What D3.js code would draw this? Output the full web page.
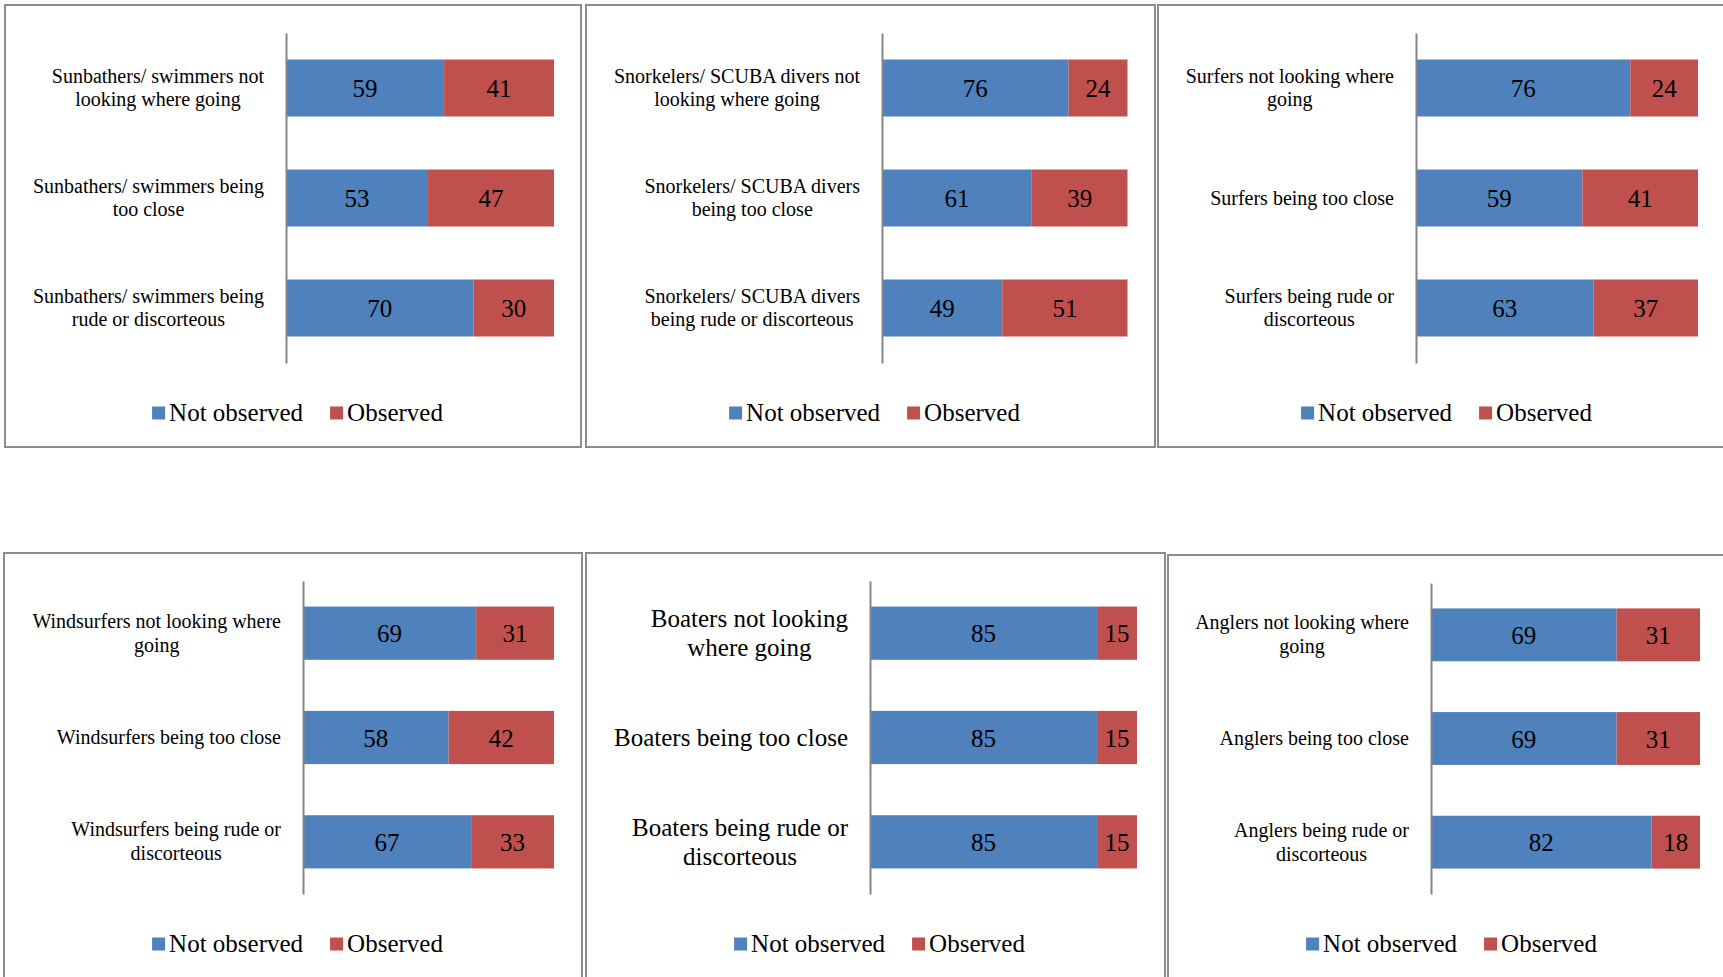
<!DOCTYPE html>
<html>
<head>
<meta charset="utf-8">
<script src="https://cdn.jsdelivr.net/npm/d3@7"></script>
<style>
  html, body { margin: 0; padding: 0; background: #fff; overflow: hidden; }
  svg { display: block; font-family: "Liberation Serif", "Times New Roman", serif; }
</style>
</head>
<body>
<svg id="chart" width="1723" height="977"></svg>
<script>
// ---------------- DATA ----------------
const seriesNames = ["Not observed", "Observed"];
const seriesColors = ["#4F81BD", "#C0504D"];

const sunbatherCategories = ["Sunbathers/ swimmers not\nlooking where going", "Sunbathers/ swimmers being\ntoo close", "Sunbathers/ swimmers being\nrude or discorteous"];
const sunbatherNotObserved = [59, 53, 70];
const sunbatherObserved = [41, 47, 30];

const snorkelerCategories = ["Snorkelers/ SCUBA divers not\nlooking where going", "Snorkelers/ SCUBA divers\nbeing too close", "Snorkelers/ SCUBA divers\nbeing rude or discorteous"];
const snorkelerNotObserved = [76, 61, 49];
const snorkelerObserved = [24, 39, 51];

const surferCategories = ["Surfers not looking where\ngoing", "Surfers being too close", "Surfers being rude or\ndiscorteous"];
const surferNotObserved = [76, 59, 63];
const surferObserved = [24, 41, 37];

const windsurferCategories = ["Windsurfers not looking where\ngoing", "Windsurfers being too close", "Windsurfers being rude or\ndiscorteous"];
const windsurferNotObserved = [69, 58, 67];
const windsurferObserved = [31, 42, 33];

const boaterCategories = ["Boaters not looking\nwhere going", "Boaters being too close", "Boaters being rude or\ndiscorteous"];
const boaterNotObserved = [85, 85, 85];
const boaterObserved = [15, 15, 15];

const anglerCategories = ["Anglers not looking where\ngoing", "Anglers being too close", "Anglers being rude or\ndiscorteous"];
const anglerNotObserved = [69, 69, 82];
const anglerObserved = [31, 31, 18];

// ---------------- LAYOUT (positions only) ----------------
const panels = [
  { cats: sunbatherCategories, a: sunbatherNotObserved, b: sunbatherObserved,
    box: [5, 5, 576, 442], axisX: 286, barRight: 554, yTop: 33, yBottom: 363, pad: 0.482,
    labelFont: 20, lh: 23, legendY: 413, legendCx: 297.5 },
  { cats: snorkelerCategories, a: snorkelerNotObserved, b: snorkelerObserved,
    box: [586, 5, 569, 442], axisX: 882, barRight: 1127.5, yTop: 33, yBottom: 363, pad: 0.482,
    labelFont: 20, lh: 23, legendY: 413, legendCx: 874.5 },
  { cats: surferCategories, a: surferNotObserved, b: surferObserved,
    box: [1158, 5, 580, 442], axisX: 1416, barRight: 1698, yTop: 33, yBottom: 363, pad: 0.482,
    labelFont: 20, lh: 23, legendY: 413, legendCx: 1446.5 },
  { cats: windsurferCategories, a: windsurferNotObserved, b: windsurferObserved,
    box: [4, 553, 578, 440], axisX: 303, barRight: 554, yTop: 581, yBottom: 894, pad: 0.49,
    labelFont: 20, lh: 24, legendY: 944, legendCx: 297.5 },
  { cats: boaterCategories, a: boaterNotObserved, b: boaterObserved,
    box: [586, 553, 579, 440], axisX: 870, barRight: 1137, yTop: 581, yBottom: 894, pad: 0.49,
    labelFont: 25, lh: 29, legendY: 944, legendCx: 879.5 },
  { cats: anglerCategories, a: anglerNotObserved, b: anglerObserved,
    box: [1168, 555, 580, 440], axisX: 1431, barRight: 1700, yTop: 583, yBottom: 894, pad: 0.49,
    labelFont: 20, lh: 24, legendY: 944, legendCx: 1451.5 }
];

const svg = d3.select("#chart");

panels.forEach(p => {
  const g = svg.append("g");
  // panel border
  g.append("rect")
    .attr("x", p.box[0]).attr("y", p.box[1])
    .attr("width", p.box[2]).attr("height", p.box[3])
    .attr("fill", "#fff").attr("stroke", "#8c8c8c").attr("stroke-width", 2);

  const x = d3.scaleLinear().domain([0, 100]).range([p.axisX, p.barRight]);
  const y = d3.scaleBand().domain(p.cats).range([p.yTop, p.yBottom])
    .paddingInner(p.pad).paddingOuter(p.pad / 2);

  const rows = p.cats.map((c, i) => ({ cat: c, vals: [p.a[i], p.b[i]] }));
  const stack = d3.stack().keys([0, 1]).value((d, k) => d.vals[k])(rows);

  stack.forEach((layer, k) => {
    g.append("g").selectAll("rect").data(layer).join("rect")
      .attr("x", d => x(d[0]))
      .attr("width", d => x(d[1]) - x(d[0]))
      .attr("y", d => y(d.data.cat))
      .attr("height", y.bandwidth())
      .attr("fill", seriesColors[k]);
    g.append("g").selectAll("text").data(layer).join("text")
      .attr("x", d => (x(d[0]) + x(d[1])) / 2)
      .attr("y", d => y(d.data.cat) + y.bandwidth() / 2)
      .attr("dy", "0.36em")
      .attr("text-anchor", "middle")
      .attr("font-size", 25)
      .attr("fill", "#000")
      .text(d => d.data.vals[k]);
  });

  // axis line
  const axis = d3.axisLeft(y).tickSize(0).tickSizeOuter(0).tickFormat("");
  const ag = g.append("g").attr("transform", `translate(${p.axisX},0)`).call(axis);
  ag.select(".domain").attr("stroke", "#868686").attr("stroke-width", 2);

  // category labels (right-aligned block, centred lines)
  p.cats.forEach(c => {
    const lines = c.split("\n");
    const cy = y(c) + y.bandwidth() / 2;
    const cap = 0.662 * p.labelFont;
    const b1 = cy - ((lines.length - 1) * p.lh - cap) / 2;
    const tg = g.append("g");
    const texts = lines.map((ln, i) => tg.append("text")
      .attr("y", b1 + i * p.lh)
      .attr("font-size", p.labelFont)
      .attr("fill", "#000")
      .attr("text-anchor", "middle")
      .text(ln));
    const maxW = d3.max(texts, t => t.node().getComputedTextLength());
    const right = p.axisX - 22;
    texts.forEach(t => t.attr("x", right - maxW / 2));
  });

  // legend
  const lg = g.append("g");
  const sq = 13;
  const items = seriesNames.map((n, i) => {
    const r = lg.append("rect").attr("width", sq).attr("height", sq)
      .attr("y", p.legendY - 6.5).attr("fill", seriesColors[i]);
    const t = lg.append("text").attr("y", p.legendY + 8)
      .attr("font-size", 25).attr("fill", "#000").text(n);
    return { r, t, w: t.node().getComputedTextLength() };
  });
  const gapSqText = 4, gapItems = 27;
  const total = items.reduce((s, it) => s + sq + gapSqText + it.w, 0) + gapItems * (items.length - 1);
  let cx = p.legendCx - total / 2;
  items.forEach(it => {
    it.r.attr("x", cx);
    it.t.attr("x", cx + sq + gapSqText);
    cx += sq + gapSqText + it.w + gapItems;
  });
});
</script>
</body>
</html>
